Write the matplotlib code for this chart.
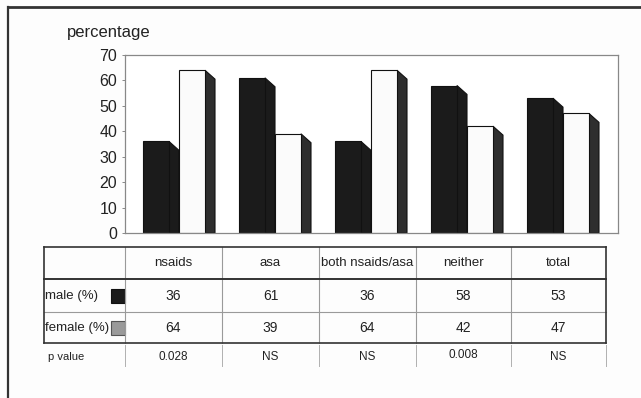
import matplotlib
matplotlib.use("Agg")
import matplotlib.pyplot as plt
from matplotlib.patches import Rectangle, Polygon
from matplotlib.lines import Line2D

plt.rcParams['font.family'] = ['Liberation Sans', 'DejaVu Sans']

categories = ["nsaids", "asa", "both nsaids/asa", "neither", "total"]
male = [36, 61, 36, 58, 53]
female = [64, 39, 64, 42, 47]
p_values = ["0.028", "NS", "NS", "0.008", "NS"]
row_labels = ["male (%)", "female (%)", "p value"]
yticks = [0, 10, 20, 30, 40, 50, 60, 70]

W, H = 641, 398
fig = plt.figure(figsize=(W / 100, H / 100), dpi=100)
fig.patch.set_facecolor("#fdfdfd")

def fx(px):
    return px / W

def fy(py):
    return 1 - py / H

# outer frame (cropped box)
fig.add_artist(Line2D([fx(8), fx(641)], [fy(7), fy(7)], color="#333333", lw=2.0))
fig.add_artist(Line2D([fx(8), fx(8)], [fy(7), fy(398)], color="#333333", lw=1.6))

# chart axes
ax = fig.add_axes([fx(125), fy(233), fx(618) - fx(125), fy(55) - fy(233)])
ax.set_facecolor("white")
ax.set_ylim(0, 70)
ax.set_xlim(-0.5625, 4.573)
ax.set_yticks(yticks)
ax.set_yticklabels([str(t) for t in yticks], fontsize=11.5, color="#222222")
ax.tick_params(axis="y", length=2, width=0.6, color="#777777", pad=3.5)
ax.set_xticks([])
for s in ax.spines.values():
    s.set_color("#888888")
    s.set_linewidth(0.9)

front_w = 0.271
depth_x = 0.104
depth_y = 3.5

def bar3d(x0, v, face, side, side_edge):
    ax.add_patch(Polygon([(x0 + front_w, 0), (x0 + front_w, v),
                          (x0 + front_w + depth_x, v - depth_y),
                          (x0 + front_w + depth_x, 0)],
                         closed=True, facecolor=side, edgecolor=side_edge, lw=0.8))
    ax.add_patch(Rectangle((x0, 0), front_w, v, facecolor=face,
                           edgecolor="#111111", lw=0.8))

for i in range(len(categories)):
    xm = i - 0.375
    bar3d(xm, male[i], "#1b1b1b", "#1b1b1b", "#111111")
    bar3d(xm + front_w + depth_x, female[i], "#fbfbfb", "#2e2e2e", "#111111")

fig.text(fx(67), fy(32), "percentage", fontsize=12, color="#222222",
         ha="left", va="center")

# table
xb = [44, 125, 222, 319, 416, 511, 606]
yt, yh, ym, yf, yp = 247, 279, 312, 343, 366

def hline(x1, x2, y, c, lw):
    fig.add_artist(Line2D([fx(x1), fx(x2)], [fy(y), fy(y)], color=c, lw=lw))

def vline(x, y1, y2, c, lw):
    fig.add_artist(Line2D([fx(x), fx(x)], [fy(y1), fy(y2)], color=c, lw=lw))

for x in xb[1:-1]:
    vline(x, yt, yf, "#9a9a9a", 0.8)
hline(xb[0], xb[-1], ym, "#9a9a9a", 0.8)
hline(xb[0], xb[-1], yh, "#333333", 1.4)
hline(xb[0], xb[-1], yt, "#333333", 1.2)
hline(xb[0], xb[-1], yf, "#333333", 1.2)
vline(xb[0], yt, yf, "#333333", 1.2)
vline(xb[-1], yt, yf, "#333333", 1.2)
for x in xb[1:]:
    vline(x, yf + 2, yp, "#b0b0b0", 0.7)

ry_head = (yt + yh) / 2
ry_male = (yh + ym) / 2
ry_fem = (ym + yf) / 2
ry_p = 357

for j, cat in enumerate(categories):
    cx = (xb[j + 1] + xb[j + 2]) / 2
    fig.text(fx(cx), fy(ry_head), cat, fontsize=9.5, color="#222222", ha="center", va="center")
    fig.text(fx(cx), fy(ry_male), str(male[j]), fontsize=10, color="#222222", ha="center", va="center")
    fig.text(fx(cx), fy(ry_fem), str(female[j]), fontsize=10, color="#222222", ha="center", va="center")
    py = ry_p - 2 if p_values[j] == "0.008" else ry_p
    fig.text(fx(cx), fy(py), p_values[j], fontsize=8.5, color="#222222", ha="center", va="center")

fig.text(fx(45), fy(ry_male), row_labels[0], fontsize=9.5, color="#222222", ha="left", va="center")
fig.text(fx(45), fy(ry_fem), row_labels[1], fontsize=9.5, color="#222222", ha="left", va="center")
fig.text(fx(48), fy(ry_p), row_labels[2], fontsize=8, color="#222222", ha="left", va="center")

fig.add_artist(Rectangle((fx(111), fy(303)), fx(14), fy(289) - fy(303),
                         facecolor="#1b1b1b", edgecolor="#111111", lw=0.8))
fig.add_artist(Rectangle((fx(111), fy(335)), fx(14), fy(321) - fy(335),
                         facecolor="#9a9a9a", edgecolor="#555555", lw=0.8))

fig.savefig("out.png", dpi=100, facecolor=fig.get_facecolor())
